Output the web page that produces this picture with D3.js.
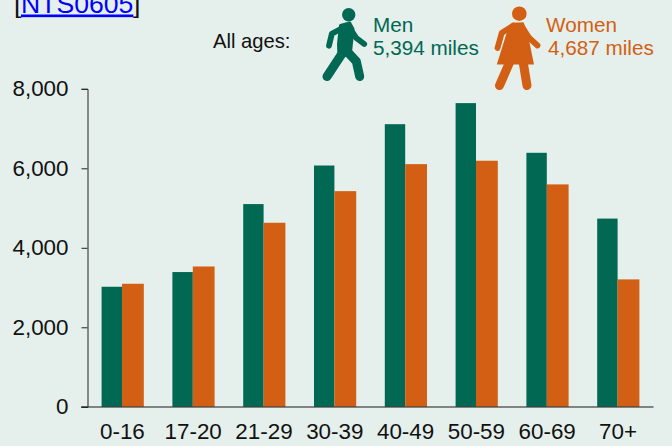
<!DOCTYPE html>
<html><head><meta charset="utf-8">
<script src="https://cdn.jsdelivr.net/npm/d3@7"></script>
<style>
html,body{margin:0;padding:0;background:#e5efeb;overflow:hidden}
svg{display:block}
text{font-family:"Liberation Sans",Arial,sans-serif}
</style></head><body>
<svg id="c" width="672" height="446"></svg>
<script>
const categories=["0-16","17-20","21-29","30-39","40-49","50-59","60-69","70+"];
const men=[3020,3390,5100,6070,7110,7640,6390,4735];
const women=[3095,3530,4630,5425,6105,6190,5595,3205];
const yTicks=[0,2000,4000,6000,8000];
const GREEN="#006853",ORANGE="#d35f14",INK="#111";
const svg=d3.select("#c");
const x=d3.scaleBand().domain(categories).range([87,653.4]);
const y=d3.scaleLinear().domain([0,8000]).range([406.8,88.8]);
const menW=20.4,womenW=21.8;
const g=svg.append("g");
categories.forEach((c,i)=>{
  const cx=x(c)+x.bandwidth()/2-.4;
  g.append("rect").attr("x",cx-menW).attr("width",menW).attr("y",y(men[i])).attr("height",y(0)-y(men[i])).attr("fill",GREEN);
  g.append("rect").attr("x",cx).attr("width",womenW).attr("y",y(women[i])).attr("height",y(0)-y(women[i])).attr("fill",ORANGE);
});
const ya=svg.append("g").attr("transform","translate(87.5,0)").call(d3.axisLeft(y).tickValues(yTicks).tickSize(6).tickPadding(13).tickFormat(d3.format(",")));
ya.select(".domain").attr("stroke","#222").attr("stroke-width",1);
ya.selectAll(".tick line").attr("stroke","#222");
ya.selectAll("text").attr("font-size",22.4).attr("fill",INK).style("font-family",'"Liberation Sans"');
const xa=svg.append("g").attr("transform","translate(0,407)").call(d3.axisBottom(x).tickSize(0).tickPadding(16));
xa.select(".domain").attr("stroke","#222").attr("stroke-opacity",.7).attr("stroke-width",1.6).attr("d","M81,0H653.5");
xa.selectAll("text").attr("font-size",22.4).attr("fill",INK).style("font-family",'"Liberation Sans"');
// top reference
const ref=svg.append("g").attr("font-size",26.6);
ref.append("text").attr("x",14).attr("y",12.5).attr("fill",INK).text("[");
ref.append("text").attr("x",21).attr("y",12.5).attr("fill","#0000ff").attr("text-decoration","underline").text("NTS0605");
ref.append("text").attr("x",133).attr("y",12.5).attr("fill",INK).text("]");
svg.append("text").attr("x",213).attr("y",47.5).attr("font-size",20.2).attr("fill",INK).text("All ages:");
// legend
const men1=svg.append("g").attr("font-size",20.7).attr("fill",GREEN);
men1.append("text").attr("x",373).attr("y",31.7).text("Men");
men1.append("text").attr("x",373).attr("y",55).text("5,394 miles");
const wom=svg.append("g").attr("font-size",20.7).attr("fill",ORANGE);
wom.append("text").attr("x",546).attr("y",31.7).text("Women");
wom.append("text").attr("x",548).attr("y",55).text("4,687 miles");
// walking man
const mg=svg.append("g").attr("fill","none").attr("stroke",GREEN).attr("stroke-linecap","round").attr("stroke-linejoin","round");
mg.append("circle").attr("cx",348.7).attr("cy",14.7).attr("r",6.7).attr("fill",GREEN).attr("stroke","none");
mg.append("path").attr("stroke-width",5.8).attr("d","M346.3,26 L331.8,33.8 L329,45.7");
mg.append("path").attr("stroke-width",5.8).attr("d","M349.7,28 L356.3,38 L364.2,44");
mg.append("path").attr("fill",GREEN).attr("stroke-width",3).attr("d","M340.5,25.5 L349.7,23 L353,29 L350.5,52 L339,59 L338.5,44 Z");
mg.append("path").attr("stroke-width",9).attr("d","M341.8,54 L327,76.5");
mg.append("path").attr("stroke-width",9).attr("d","M346.3,50.7 L356.3,61.3 L359.7,76.5");
// walking woman
const wg=svg.append("g").attr("fill","none").attr("stroke",ORANGE).attr("stroke-linecap","round").attr("stroke-linejoin","round");
wg.append("circle").attr("cx",519.3).attr("cy",13.7).attr("r",7.3).attr("fill",ORANGE).attr("stroke","none");
wg.append("path").attr("stroke-width",5.8).attr("d","M513.3,25.5 L501.7,33 L497.5,48");
wg.append("path").attr("stroke-width",5.8).attr("d","M523.3,28.7 L529.3,38 L537.5,45.5");
wg.append("path").attr("fill",ORANGE).attr("stroke","none").attr("d","M512.5,22.7 L523.5,22.2 L527,30.3 L534,64.5 L496.8,64.5 L507.5,30.3 Z");
wg.append("path").attr("stroke-width",9).attr("d","M509.3,63 L499.5,85.5");
wg.append("path").attr("stroke-width",9).attr("d","M523.3,63 L527,85.5");
</script>
</body></html>
